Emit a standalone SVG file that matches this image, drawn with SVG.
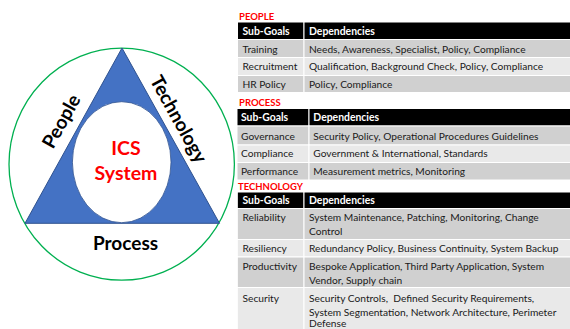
<svg xmlns="http://www.w3.org/2000/svg" width="570" height="329" viewBox="0 0 570 329">
<style>
.big{font-family:Lato,"Open Sans","Liberation Sans",sans-serif;font-weight:bold;font-size:19px;fill:#000;text-anchor:middle}
.core{font-family:Lato,"Open Sans","Liberation Sans",sans-serif;font-weight:bold;font-size:19.5px;fill:#FF0000;text-anchor:middle}
.lbl{font-family:Lato,"Open Sans","Liberation Sans",sans-serif;font-weight:bold;font-size:9.5px;fill:#FF0000}
.hd{fill:#000;stroke:#fff;stroke-width:1}
.dk{fill:#D0D0D0;stroke:#fff;stroke-width:1}
.lt{fill:#E9E9E9;stroke:#fff;stroke-width:1}
.th{font-family:Lato,"Open Sans","Liberation Sans",sans-serif;font-weight:bold;font-size:10.4px;fill:#fff}
.td{font-family:Lato,"Open Sans","Liberation Sans",sans-serif;font-size:10.2px;fill:#1a1a1a}
</style>
<rect width="570" height="329" fill="#fff"/>
<g id="diagram">
  <g id="node-circle">
    <ellipse cx="121.7" cy="164.2" rx="112.7" ry="116" fill="#fff" stroke="#00B050" stroke-width="1.3"/>
  </g>
  <g id="node-triangle">
    <polygon points="122,48 25,223.3 219.5,223.3" fill="#4472C4" stroke="#2F528F" stroke-width="1"/>
    <text class="big" transform="translate(61,121) rotate(-61)" x="0" y="7">People</text>
    <text class="big" transform="translate(179,119) rotate(61)" x="0" y="7">Technology</text>
    <text class="big" x="125.5" y="250">Process</text>
  </g>
  <g id="node-core">
    <ellipse cx="121.7" cy="162.2" rx="49.3" ry="60.5" fill="#fff" stroke="#2F528F" stroke-width="0.8"/>
    <text class="core" x="126" y="155">ICS</text>
    <text class="core" x="126" y="180">System</text>
  </g>
</g>
<g id="table-people">
  <text class="lbl" x="239" y="20">PEOPLE</text>
  <rect class="hd" x="237.5" y="22" width="66.5" height="17.5"/>
  <rect class="hd" x="304" y="22" width="267" height="17.5"/>
  <rect class="dk" x="237.5" y="39.5" width="66.5" height="18"/>
  <rect class="dk" x="304" y="39.5" width="267" height="18"/>
  <rect class="lt" x="237.5" y="57.5" width="66.5" height="18"/>
  <rect class="lt" x="304" y="57.5" width="267" height="18"/>
  <rect class="dk" x="237.5" y="75.5" width="66.5" height="17"/>
  <rect class="dk" x="304" y="75.5" width="267" height="17"/>
  <text class="th" x="242.5" y="34.5">Sub-Goals</text>
  <text class="th" x="309" y="34.5">Dependencies</text>
  <text class="td" x="242.5" y="52.5">Training</text>
  <text class="td" x="309" y="52.5">Needs, Awareness, Specialist, Policy, Compliance</text>
  <text class="td" x="242.5" y="70">Recruitment</text>
  <text class="td" x="309" y="70">Qualification, Background Check, Policy, Compliance</text>
  <text class="td" x="242.5" y="87.5">HR Policy</text>
  <text class="td" x="309" y="87.5">Policy, Compliance</text>
</g>
<g id="table-process">
  <text class="lbl" x="239" y="105.7">PROCESS</text>
  <rect class="hd" x="237" y="108.5" width="72" height="17.5"/>
  <rect class="hd" x="309" y="108.5" width="262" height="17.5"/>
  <rect class="dk" x="237" y="126" width="72" height="19"/>
  <rect class="dk" x="309" y="126" width="262" height="19"/>
  <rect class="lt" x="237" y="145" width="72" height="17.5"/>
  <rect class="lt" x="309" y="145" width="262" height="17.5"/>
  <rect class="dk" x="237" y="162.5" width="72" height="17.5"/>
  <rect class="dk" x="309" y="162.5" width="262" height="17.5"/>
  <text class="th" x="241" y="121">Sub-Goals</text>
  <text class="th" x="313.3" y="121">Dependencies</text>
  <text class="td" x="241" y="139.5">Governance</text>
  <text class="td" x="313.3" y="139.5">Security Policy, Operational Procedures Guidelines</text>
  <text class="td" x="241" y="157">Compliance</text>
  <text class="td" x="313.3" y="157">Government &amp; International, Standards</text>
  <text class="td" x="241" y="174.5">Performance</text>
  <text class="td" x="313.3" y="174.5">Measurement metrics, Monitoring</text>
</g>
<g id="table-technology">
  <text class="lbl" x="238" y="190">TECHNOLOGY</text>
  <rect class="hd" x="237.3" y="192" width="66.7" height="16.5"/>
  <rect class="hd" x="304" y="192" width="267" height="16.5"/>
  <rect class="dk" x="237.3" y="208.5" width="66.7" height="31"/>
  <rect class="dk" x="304" y="208.5" width="267" height="31"/>
  <rect class="lt" x="237.3" y="239.5" width="66.7" height="17.5"/>
  <rect class="lt" x="304" y="239.5" width="267" height="17.5"/>
  <rect class="dk" x="237.3" y="257" width="66.7" height="30.5"/>
  <rect class="dk" x="304" y="257" width="267" height="30.5"/>
  <rect class="lt" x="237.3" y="287.5" width="66.7" height="43"/>
  <rect class="lt" x="304" y="287.5" width="267" height="43"/>
  <text class="th" x="242.5" y="203.5">Sub-Goals</text>
  <text class="th" x="309" y="203.5">Dependencies</text>
  <text class="td" x="242.5" y="221">Reliability</text>
  <text class="td" x="309" y="221">System Maintenance, Patching, Monitoring, Change</text>
  <text class="td" x="309" y="234.5">Control</text>
  <text class="td" x="242.5" y="252">Resiliency</text>
  <text class="td" x="309" y="252">Redundancy Policy, Business Continuity, System Backup</text>
  <text class="td" x="242.5" y="270">Productivity</text>
  <text class="td" x="309" y="270">Bespoke Application, Third Party Application, System</text>
  <text class="td" x="309" y="283.5">Vendor, Supply chain</text>
  <text class="td" x="242.5" y="302">Security</text>
  <text class="td" x="309" y="302" xml:space="preserve">Security Controls,  Defined Security Requirements,</text>
  <text class="td" x="309" y="315.5">System Segmentation, Network Architecture, Perimeter</text>
  <text class="td" x="309" y="327.3">Defense</text>
</g>
</svg>
